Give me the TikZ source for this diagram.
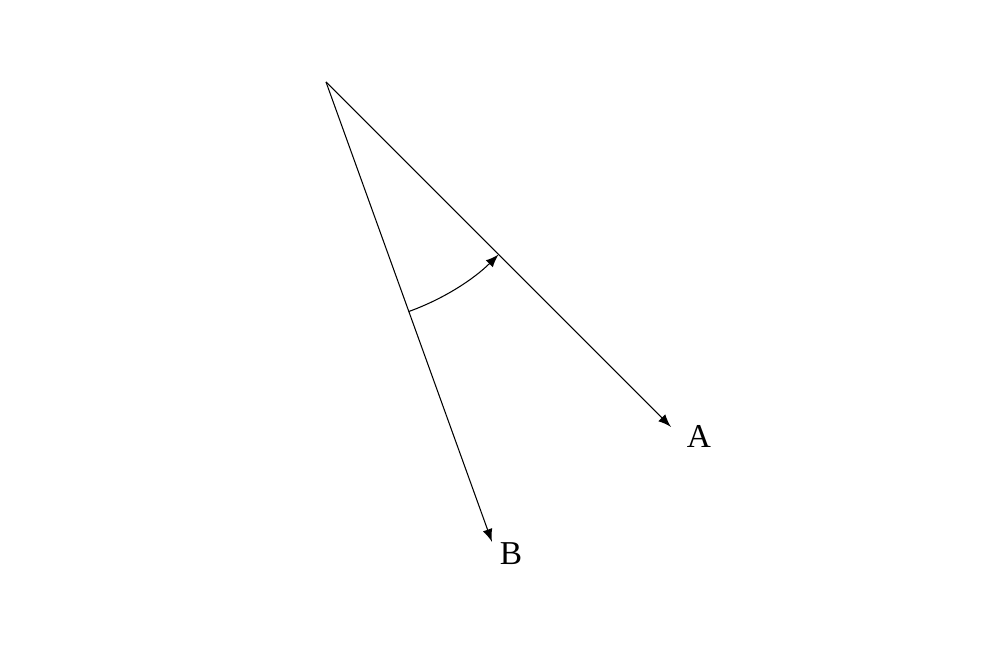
\documentclass[tikz,border=0pt]{standalone}
\usepackage{amsmath,amssymb}
\usepackage{fontspec}
\setmainfont{Liberation Serif}
\usetikzlibrary{arrows,calc}

\begin{document}
\begin{tikzpicture}[>=latex,line width=0.3pt]
% Fix the page size
\useasboundingbox (0,0) rectangle (10,6.5);

% Define the vertex and the ray ends
\coordinate (O) at (3.26,5.68);
\coordinate (Aend) at (6.71,2.23);
\coordinate (Bend) at (4.92,1.08);

% Draw the two rays
\draw[->] (O) -- (Aend);
\draw[->] (O) -- (Bend);

% Draw the angle arc
\draw[->] ($(O)+(-70.2:2.44)$) arc (-70.2:-45:2.44);

% Add labels
\node[font=\fontsize{9.5}{11}\selectfont] (A) at (6.99,2.14) {A};
\node[font=\fontsize{9.5}{11}\selectfont] (B) at (5.11,0.96) {B};
\end{tikzpicture}
\end{document}
